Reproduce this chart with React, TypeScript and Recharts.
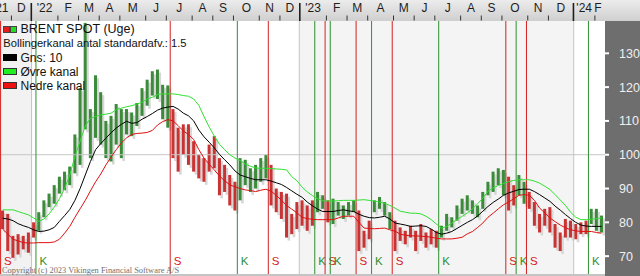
import React from 'react';
import { ComposedChart, Bar, Line, XAxis, YAxis, ReferenceLine, ReferenceArea } from 'recharts';

// Weekly BRENT SPOT bars (low / high), Nov 2021 - Feb 2024
const lows = [
  78.0, 71.5, 69.5, 70.5, 72.0, 71.0, 75.5, 77.5, 81.5, 84.5,
  85.5, 88.5, 89.5, 91.0, 94.5, 97.0, 107.5, 99.0, 105.0, 103.0,
  99.0, 98.0, 103.0, 99.0, 106.0, 105.5, 108.5, 111.5, 114.5, 117.5,
  116.5, 110.5, 108.0, 99.0, 95.0, 100.0, 97.0, 95.0, 93.0, 92.0,
  95.0, 96.0, 88.0, 89.0, 85.0, 83.5, 86.5, 91.0, 89.0, 90.0,
  92.0, 93.0, 85.0, 83.0, 81.0, 75.5, 76.5, 78.0, 79.0, 77.5,
  79.0, 83.0, 84.0, 80.0, 79.5, 82.0, 81.0, 82.0, 83.0, 71.5,
  72.5, 75.0, 83.0, 84.0, 82.0, 78.0, 71.5, 74.5, 73.5, 75.5,
  71.5, 74.5, 72.5, 73.5, 72.5, 75.5, 77.5, 78.5, 80.5, 82.5,
  83.5, 82.5, 81.5, 84.0, 88.0, 89.0, 91.0, 88.0, 83.5, 85.0,
  88.0, 85.5, 84.0, 79.0, 77.0, 79.0, 77.0, 72.5, 71.5, 75.5,
  75.5, 75.0, 76.5, 76.5, 79.5, 77.5, 77.0,
];
const highs = [
  83.5, 82.5, 76.0, 76.5, 76.0, 77.0, 80.0, 83.0, 86.5, 88.5,
  91.0, 93.5, 95.0, 96.5, 106.0, 119.7, 139.0, 113.5, 123.5, 118.5,
  110.0, 111.5, 115.0, 113.5, 113.5, 112.5, 115.3, 119.7, 122.2, 124.7,
  125.2, 120.7, 120.5, 113.5, 108.0, 109.0, 109.0, 104.0, 100.0, 99.0,
  103.0, 105.5, 99.0, 97.0, 94.0, 92.0, 99.0, 98.5, 96.0, 97.0,
  99.0, 100.0, 97.0, 90.0, 89.0, 88.5, 82.5, 86.0, 86.5, 85.0,
  86.5, 89.0, 88.0, 86.5, 87.0, 86.0, 85.0, 86.0, 86.5, 83.5,
  77.5, 80.5, 86.5, 87.5, 86.0, 83.0, 80.5, 78.5, 77.5, 79.0,
  77.5, 79.5, 77.0, 78.0, 77.5, 79.0, 82.5, 81.5, 85.0, 87.0,
  88.0, 86.5, 85.0, 89.0, 92.0, 95.0, 96.0, 95.5, 93.5, 91.0,
  94.0, 92.0, 89.0, 86.0, 82.5, 84.0, 84.5, 79.5, 77.0, 81.0,
  80.5, 79.5, 80.0, 80.5, 84.0, 84.0, 82.0,
];
// Gns: 10 (black)
const avg10 = [
  81.2, 81.0, 80.5, 79.6, 79.0, 78.5, 77.8, 77.3, 77.4, 77.8,
  78.5, 80.3, 82.0, 83.8, 86.5, 90.0, 94.0, 98.0, 101.5, 103.3,
  104.9, 106.5, 107.9, 109.0, 109.9, 109.3, 109.5, 110.5, 111.3, 112.2,
  113.2, 113.8, 114.1, 114.3, 113.5, 112.3, 111.5, 110.0, 107.3, 105.3,
  103.7, 102.0, 100.1, 98.5, 97.0, 95.2, 94.0, 93.5, 93.0, 92.6,
  92.6, 92.6, 92.2, 91.7, 91.2, 90.3, 89.3, 88.3, 87.4, 86.0,
  84.9, 83.9, 83.2, 83.2, 83.2, 83.5, 83.7, 83.4, 83.2, 82.4,
  81.8, 81.4, 81.3, 81.5, 81.8, 81.0, 79.8, 79.5, 79.2, 78.8,
  78.9, 79.0, 78.8, 78.0, 77.0, 76.5, 76.8, 77.3, 78.2, 79.1,
  80.0, 80.8, 81.9, 83.3, 84.7, 85.9, 86.9, 88.0, 88.7, 89.2,
  89.7, 89.8, 89.8, 89.1, 88.2, 87.2, 86.2, 84.8, 83.6, 82.3,
  81.1, 80.0, 79.2, 78.9, 78.8, 78.8, 78.8,
];
// Øvre kanal (green)
const upperBand = [
  83.7, 83.7, 83.7, 83.2, 82.7, 82.2, 81.3, 80.3, 81.0, 82.5,
  84.5, 87.0, 90.0, 94.0, 99.5, 104.0, 108.5, 110.8, 111.3, 111.8,
  112.0, 112.3, 113.3, 113.8, 114.2, 114.5, 115.0, 115.5, 116.5, 117.0,
  117.8, 118.0, 118.0, 118.0, 117.8, 117.5, 117.3, 116.5, 114.6, 111.3,
  108.2, 105.5, 103.1, 101.5, 100.0, 99.0, 98.3, 97.2, 96.6, 96.1,
  96.0, 96.0, 95.9, 95.8, 95.7, 95.5, 93.5, 92.3, 90.4, 89.0,
  87.9, 87.0, 86.4, 86.3, 86.3, 86.4, 86.5, 86.5, 86.5, 86.6,
  86.7, 86.5, 86.3, 86.0, 85.6, 85.0, 84.2, 83.3, 83.0, 82.7,
  82.7, 82.5, 81.8, 80.8, 79.5, 78.3, 78.8, 79.8, 80.8, 81.8,
  82.8, 84.0, 85.5, 87.2, 89.2, 90.2, 90.9, 91.5, 92.0, 92.4,
  92.6, 92.6, 92.6, 92.2, 91.6, 90.7, 89.7, 88.2, 86.6, 85.0,
  83.0, 81.5, 80.8, 80.8, 80.9, 81.1, 81.3,
];
// Nedre kanal (red)
const lowerBand = [
  78.0, 76.5, 75.0, 74.5, 74.0, 73.9, 73.9, 74.0, 74.0, 74.0,
  74.2, 75.0, 76.8, 78.8, 81.5, 84.0, 86.5, 89.3, 92.0, 94.3,
  97.0, 99.3, 101.5, 103.5, 105.0, 106.0, 106.3, 106.4, 106.6, 107.2,
  108.8, 109.8, 110.4, 110.0, 108.6, 107.0, 106.0, 104.5, 101.5, 99.0,
  97.2, 95.5, 93.7, 92.3, 91.1, 90.5, 90.0, 89.6, 89.4, 89.1,
  89.5, 89.8, 89.2, 88.0, 86.5, 85.0, 83.9, 82.8, 81.5, 81.1,
  80.9, 80.8, 80.8, 80.8, 80.8, 81.3, 81.8, 81.8, 81.8, 80.0,
  78.3, 78.2, 78.1, 78.2, 78.3, 77.8, 77.4, 76.5, 76.2, 76.0,
  76.0, 75.9, 75.8, 75.6, 75.3, 75.1, 75.1, 75.1, 75.3, 75.6,
  76.6, 77.3, 78.5, 79.8, 81.5, 82.7, 84.0, 85.2, 86.0, 87.0,
  88.0, 88.2, 88.0, 86.5, 84.2, 82.8, 81.3, 80.2, 79.2, 78.4,
  77.8, 77.5, 77.3, 77.3, 77.3, 77.0, 76.8,
];

// K = kjøb (buy), S = salg (sell) signals, by bar index
const signalBars = [0, 7, 33, 46, 52, 61, 63, 64, 69, 72, 76, 85, 98, 100, 102, 114];
const signalTypes = ['S', 'K', 'S', 'K', 'S', 'K', 'S', 'K', 'S', 'K', 'S', 'K', 'S', 'K', 'S', 'K'];

// first weekly bar of each month, and month labels
const monthStartBars = [-2, 2, 6, 11, 15, 19, 23, 28, 32, 37, 41, 45, 50, 54, 58, 63, 67, 71, 76, 80, 84, 89, 93, 97, 102, 106, 111, 115, 119];
const monthLabels = ["'21", 'D', "'22", 'F', 'M', 'A', 'M', 'J', 'J', 'A', 'S', 'O', 'N', 'D', "'23", 'F', 'M', 'A', 'M', 'J', 'J', 'A', 'S', 'O', 'N', 'D', "'24", 'F'];
const yearStartBars = [6, 58, 111];
const yTicks = [70, 80, 90, 100, 110, 120, 130];

const X_DOMAIN: [number, number] = [-0.515, 116.66];
const Y_DOMAIN: [number, number] = [64.72, 139.56];

const GREEN_BAR = '#3b8b3b';
const RED_BAR = '#c93333';
const SIG_GREEN = '#2f8f2f';
const SIG_RED = '#d42020';
const FONT = "'Liberation Sans', Arial, sans-serif";

const signalAt = (i: number) => {
  let t = signalTypes[0];
  for (let k = 0; k < signalBars.length; k++) if (signalBars[k] <= i) t = signalTypes[k];
  return t;
};

const rows = lows.map((l, i) => ({
  i,
  hl: [l, highs[i]],
  avg: avg10[i],
  up: upperBand[i],
  lo: lowerBand[i],
  sig: signalAt(i),
}));

// top axis ticks: month boundaries + label centres
type TickInfo = { v: number; kind: 'tick' | 'year' | 'label'; text?: string };
const tickInfo: TickInfo[] = [];
const boundaries = monthStartBars.map((b, k) =>
  k < monthLabels.length && monthLabels[k].startsWith("'") ? b - 0.45 : b - 0.3
);
monthLabels.forEach((lab, k) => {
  const b = boundaries[k];
  const isYear = lab.startsWith("'");
  if (b >= X_DOMAIN[0] && b <= X_DOMAIN[1]) tickInfo.push({ v: b, kind: isYear ? 'year' : 'tick' });
  let c = (b + boundaries[k + 1]) / 2;
  if (c > 115.3) c = 115.3;
  tickInfo.push({ v: c, kind: 'label', text: lab });
});
const topTicks = tickInfo.map((t) => t.v);

const TopTick = (props: any) => {
  const { x, payload } = props;
  const t = tickInfo.find((e) => Math.abs(e.v - payload.value) < 1e-6);
  if (!t) return null;
  if (t.kind === 'label')
    return (
      <text x={x} y={12} textAnchor="middle" fontSize={12} fill="#1e1e1e" fontFamily={FONT}>
        {t.text}
      </text>
    );
  if (t.kind === 'year') return <line x1={x} x2={x} y1={3} y2={21} stroke="#1e1e1e" strokeWidth={1.6} />;
  return <line x1={x} x2={x} y1={15.5} y2={20.5} stroke="#333" strokeWidth={1} />;
};

const RightTick = (props: any) => {
  const { y, payload } = props;
  return (
    <g>
      <line x1={605} x2={609} y1={y} y2={y} stroke="#ffffff" strokeWidth={2} />
      <text x={619} y={y + 4.5} fontSize={12.5} fill="#f0f0f0" fontFamily={FONT}>
        {payload.value}
      </text>
    </g>
  );
};

const BarShape = (props: any) => {
  const { x, y, width, height, payload } = props;
  if (x == null || y == null) return null;
  const cx = x + (width || 0) / 2;
  const top = height < 0 ? y + height : y;
  const h = Math.abs(height);
  const color = payload.sig === 'K' ? GREEN_BAR : RED_BAR;
  return (
    <g>
      <rect x={cx + 1} y={top + 3} width={2.6} height={h} fill="#d7d7d7" />
      <rect x={cx - 1.5} y={top} width={3} height={h} fill={color} />
    </g>
  );
};

const sigLabel = (t: string, color: string) => (p: any) => {
  const vb = p.viewBox || p;
  return (
    <text x={vb.x + 3.5} y={265} fontSize={11.5} fill={color} fontFamily={FONT}>
      {t}
    </text>
  );
};

export default function App() {
  return (
    <div style={{ position: 'absolute', left: 0, top: 0, width: 640, height: 276, background: '#ffffff', overflow: 'hidden' }}>
      <style>{`body{margin:0}`}</style>
      <div style={{ position: 'absolute', left: 0, top: 0, width: 640, height: 21, background: 'linear-gradient(#ececec, #cfcfcf)' }} />
      <div style={{ position: 'absolute', left: 605, top: 21, width: 35, height: 255, background: '#6e6e6e' }} />
      <div style={{ position: 'absolute', left: 0, top: 274, width: 605, height: 2, background: '#c4c4c4' }} />
      <div style={{ position: 'absolute', left: 0, top: 0 }}>
        <ComposedChart width={640} height={276} data={rows} margin={{ top: 0, right: 0, bottom: 2, left: 0 }}>
          <XAxis
            dataKey="i"
            type="number"
            orientation="top"
            height={21}
            domain={X_DOMAIN}
            allowDataOverflow
            ticks={topTicks}
            interval={0}
            tick={<TopTick />}
            axisLine={false}
            tickLine={false}
          />
          <YAxis
            orientation="right"
            width={35}
            domain={Y_DOMAIN}
            allowDataOverflow
            ticks={yTicks}
            interval={0}
            tick={<RightTick />}
            axisLine={false}
            tickLine={false}
          />
          <ReferenceArea x1={X_DOMAIN[0]} x2={yearStartBars[0] - 0.4} fill="#f2f2f2" fillOpacity={1} stroke="none" ifOverflow="hidden" />
          <ReferenceArea x1={yearStartBars[1] - 0.55} x2={yearStartBars[2] - 0.4} fill="#f4f4f4" fillOpacity={1} stroke="none" ifOverflow="hidden" />
          <ReferenceLine y={100} stroke="#c6c6c6" strokeWidth={1} />
          {yearStartBars.map((b, k) => (
            <ReferenceLine key={'yr' + k} x={b - (k === 1 ? 0.55 : 0.4)} stroke="#c4c4c4" strokeWidth={1} />
          ))}
          {signalBars.map((b, k) => {
            const color = signalTypes[k] === 'K' ? SIG_GREEN : SIG_RED;
            const xv = Math.max(b - 0.55, -0.4);
            return (
              <ReferenceLine
                key={'sig' + k}
                x={xv}
                stroke={color}
                strokeWidth={1}
                ifOverflow="visible"
                label={sigLabel(signalTypes[k], color)}
              />
            );
          })}
          <Bar dataKey="hl" barSize={3} shape={<BarShape />} isAnimationActive={false} />
          <Line type="linear" dataKey="up" stroke="#2fe02f" strokeWidth={1} dot={false} isAnimationActive={false} />
          <Line type="linear" dataKey="lo" stroke="#e01010" strokeWidth={1} dot={false} isAnimationActive={false} />
          <Line type="linear" dataKey="avg" stroke="#000000" strokeWidth={1} dot={false} isAnimationActive={false} />
        </ComposedChart>
      </div>
      <svg width={640} height={276} style={{ position: 'absolute', left: 0, top: 0, pointerEvents: 'none' }}>
        <rect x={3.5} y={26.5} width={6} height={6} fill="#e81c1c" stroke="#444" strokeWidth={1} />
        <rect x={10.5} y={26.5} width={6} height={6} fill="#22dd22" stroke="#444" strokeWidth={1} />
        <text x={20.5} y={33} fontSize={12.5} fill="#111" fontFamily={FONT}>BRENT SPOT (Uge)</text>
        <text x={3.3} y={46.5} fontSize={11.2} fill="#111" fontFamily={FONT}>Bollingerkanal antal standardafv.: 1.5</text>
        <rect x={3} y={54} width={14} height={7} fill="#000000" />
        <text x={20.5} y={61.5} fontSize={12} fill="#111" fontFamily={FONT}>Gns: 10</text>
        <rect x={3.5} y={68.5} width={13} height={6} fill="#22ee22" stroke="#333" strokeWidth={1} />
        <text x={20.5} y={75.5} fontSize={12} fill="#111" fontFamily={FONT}>Øvre kanal</text>
        <rect x={3.5} y={82.5} width={13} height={6} fill="#ee1111" stroke="#333" strokeWidth={1} />
        <text x={20.5} y={89.5} fontSize={12} fill="#111" fontFamily={FONT}>Nedre kanal</text>
        <text x={2} y={272.5} fontSize={8.4} fill="#707070" fontFamily="'Liberation Serif', 'DejaVu Serif', serif">
          Copyright (c) 2023 Vikingen Financial Software A/S
        </text>
      </svg>
    </div>
  );
}
